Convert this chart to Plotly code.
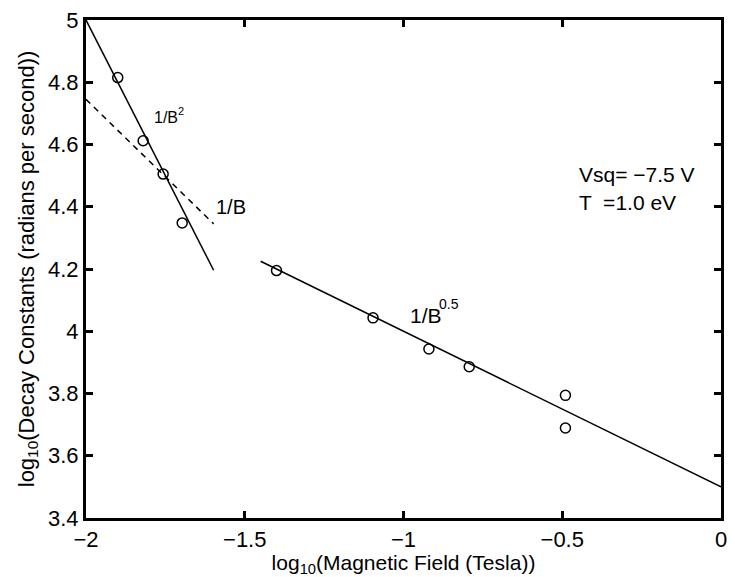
import plotly.graph_objects as go

# measured data (log10 B, log10 decay constant)
log_b = [-1.90, -1.82, -1.757, -1.697, -1.40, -1.096, -0.92, -0.793, -0.49, -0.49]
log_decay = [4.815, 4.612, 4.505, 4.348, 4.195, 4.043, 3.943, 3.886, 3.794, 3.689]

# fit line endpoints
fit_b2_x = [-2.0, -1.598]
fit_b2_y = [5.0, 4.196]
fit_b1_x = [-2.0, -1.598]
fit_b1_y = [4.745, 4.345]
fit_b05_x = [-1.45, 0.0]
fit_b05_y = [4.225, 3.50]

x_ticks = [-2, -1.5, -1, -0.5, 0]
x_tick_text = ["\u22122", "\u22121.5", "\u22121", "\u22120.5", "0"]
y_ticks = [3.4, 3.6, 3.8, 4.0, 4.2, 4.4, 4.6, 4.8, 5.0]
y_tick_text = ["3.4", "3.6", "3.8", "4", "4.2", "4.4", "4.6", "4.8", "5"]

FONT = "Liberation Sans, Arial, Helvetica, sans-serif"
NARROW = "Liberation Sans Narrow, Arial Narrow, Liberation Sans, sans-serif"

fig = go.Figure()
fig.add_trace(go.Scatter(x=fit_b2_x, y=fit_b2_y, mode="lines",
                         line=dict(color="black", width=1.5)))
fig.add_trace(go.Scatter(x=fit_b1_x, y=fit_b1_y, mode="lines",
                         line=dict(color="black", width=1.5, dash="6px,5px")))
fig.add_trace(go.Scatter(x=fit_b05_x, y=fit_b05_y, mode="lines",
                         line=dict(color="black", width=1.5)))
fig.add_trace(go.Scatter(x=log_b, y=log_decay, mode="markers",
                         marker=dict(symbol="circle-open", size=10,
                                     color="black", line=dict(width=1.5))))

def txt(x, y, s, size, anchor="center"):
    fig.add_annotation(x=x, y=y, text=s, showarrow=False, xanchor=anchor,
                       font=dict(family=FONT, size=size, color="black"))

txt(-1.747, 4.687, "1/B", 16)
txt(-1.718, 4.707, "2", 11, "left")
txt(-1.544, 4.40, "1/B", 20)
txt(-0.985, 4.052, "1/B", 21, "left")
txt(-0.895, 4.089, "0.5", 14, "left")
txt(-0.452, 4.503, "Vsq= \u22127.5 V", 21, "left")
txt(-0.452, 4.414, "T  =1.0 eV", 21, "left")

axis_common = dict(showline=True, linecolor="black", linewidth=3, mirror="allticks",
                   ticks="inside", ticklen=7, tickwidth=2.5, tickcolor="black",
                   showgrid=False, zeroline=False, ticklabeloverflow="allow",
                   tickfont=dict(family=NARROW, size=22, color="black"))

fig.update_xaxes(range=[-2, 0], tickvals=x_ticks, ticktext=x_tick_text,
                 title=dict(text="log<sub>10</sub>(Magnetic Field (Tesla))",
                            font=dict(family=FONT, size=21, color="black"),
                            standoff=2),
                 **axis_common)
fig.update_yaxes(range=[3.4, 5.0], tickvals=y_ticks, ticktext=y_tick_text,
                 title=dict(text="log<sub>10</sub>(Decay Constants (radians per second))",
                            font=dict(family=FONT, size=22, color="black"),
                            standoff=8),
                 **axis_common)

fig.update_layout(width=735, height=577, showlegend=False,
                  plot_bgcolor="white", paper_bgcolor="white",
                  margin=dict(l=86, r=8, t=12, b=57))

fig.write_html("out.html")
